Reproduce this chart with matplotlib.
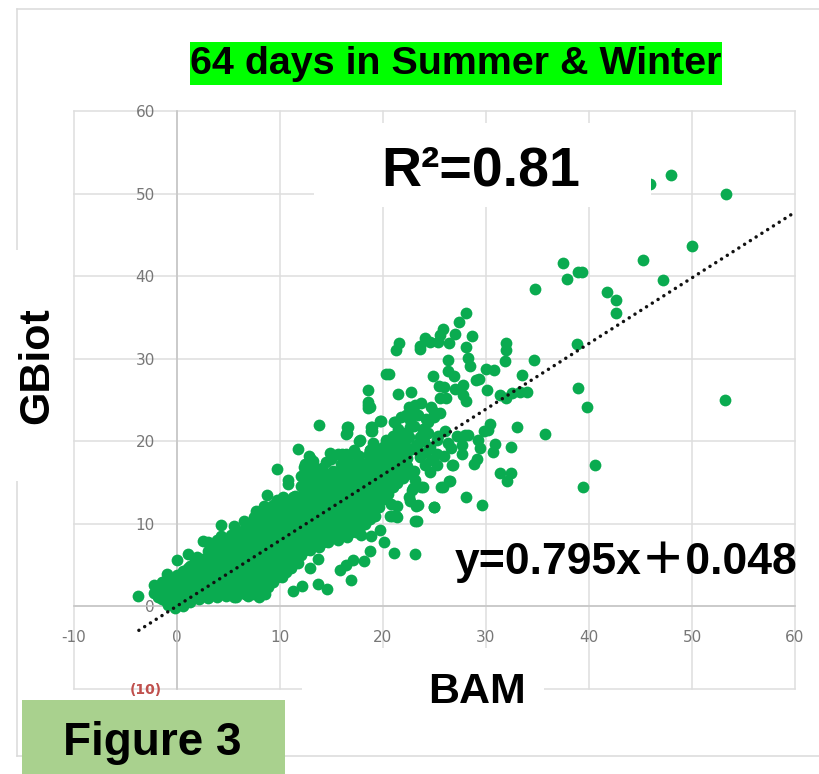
import matplotlib
matplotlib.use("Agg")
import matplotlib.pyplot as plt
from matplotlib.patches import Rectangle
from matplotlib.lines import Line2D
from matplotlib.transforms import ScaledTranslation

# ---- data -----------------------------------------------------------------
# Sparse points at the top and right of the cloud
outer_bam = [47.96, 53.3, 45.9, 50.0, 45.2, 47.2, 37.5, 37.9, 38.9, 39.3, 34.8, 41.7, 42.6, 42.6, 38.8,
             28.1, 27.4, 25.8, 25.5, 27.0, 28.6, 24.1, 24.6, 25.3, 26.4, 21.6, 21.3, 23.6, 23.6, 28.1,
             31.9, 31.9, 31.8, 34.7, 26.3, 28.3, 28.4, 30.0, 30.8, 26.3, 26.9, 24.9, 33.5, 20.3, 20.6,
             29.0, 29.3, 25.4, 25.9, 27.0, 27.8, 30.1, 18.5, 22.7, 21.5, 38.9, 25.5, 26.1, 27.8, 28.1,
             31.4, 31.9, 32.5, 33.3, 34.0, 39.8, 53.2, 18.5, 18.7, 23.7, 23.1, 22.5, 24.7, 25.5]
outer_gbiot = [52.2, 50.0, 51.1, 43.6, 42.0, 39.5, 41.6, 39.7, 40.5, 40.5, 38.4, 38.1, 37.1, 35.5, 31.8,
               35.5, 34.5, 33.6, 32.9, 33.0, 32.8, 32.5, 32.0, 32.0, 31.9, 31.9, 31.0, 31.6, 31.2, 31.4,
               31.9, 31.0, 29.7, 29.8, 29.8, 30.1, 29.1, 28.8, 28.6, 28.5, 27.9, 27.9, 28.0, 28.2, 28.2,
               27.4, 27.5, 26.7, 26.6, 26.3, 26.8, 26.2, 26.2, 26.0, 25.7, 26.5, 25.3, 25.3, 25.6, 24.9,
               25.6, 25.3, 25.8, 26.0, 26.0, 24.1, 25.0, 24.8, 24.2, 24.6, 24.4, 24.2, 24.2, 23.4]

# Points around the trend line between BAM 16 and 41
mid_bam = [40.6, 39.4, 35.7, 33.0, 30.4, 30.2, 29.8, 29.2, 29.4, 30.9, 30.7, 32.4, 28.0, 27.2, 28.3,
           27.7, 27.7, 26.3, 29.1, 28.8, 26.8, 25.9, 31.4, 32.4, 32.0, 26.5, 25.8, 28.1, 29.6, 25.0,
           23.3, 20.7, 21.3, 23.4, 22.6, 22.8, 23.9, 23.1, 24.6, 25.2, 17.8, 16.5, 16.5, 18.9, 18.9,
           19.8, 18.7, 21.2, 21.7, 20.7, 21.3, 22.1, 22.6, 23.6, 23.9, 24.4, 25.0, 22.8, 23.3, 23.6,
           24.2, 25.2, 24.7, 24.1, 22.0, 21.1, 23.0, 20.2]
mid_gbiot = [17.1, 14.5, 20.9, 21.7, 22.1, 21.4, 21.3, 20.2, 19.2, 19.7, 18.7, 19.3, 20.8, 20.7, 20.8,
             19.5, 18.4, 19.8, 17.9, 17.3, 17.1, 18.2, 16.2, 16.1, 15.2, 15.2, 14.5, 13.2, 12.3, 12.1,
             10.4, 11.0, 10.9, 12.3, 12.8, 14.1, 14.5, 15.3, 16.3, 17.1, 20.1, 21.7, 21.0, 21.7, 21.2,
             22.5, 18.9, 22.3, 22.9, 20.1, 20.7, 21.0, 21.7, 20.5, 21.5, 22.3, 22.9, 19.1, 19.3, 18.1,
             18.7, 18.5, 17.7, 17.1, 17.6, 19.0, 16.4, 19.4]

# Upper part of the cloud, BAM 12 to 27
upper_bam = [12.3, 13.2, 14.1, 15.0, 15.9, 16.8, 17.7, 18.6, 19.5, 20.4, 21.3, 22.1,
             12.8, 14.9, 17.2, 19.0, 20.0, 21.0, 21.8, 22.5, 23.2, 24.0, 24.6, 25.2,
             21.5, 22.3, 23.0, 23.8, 24.4, 25.3,
             22.6, 23.4, 24.2, 25.0, 26.0, 26.6]
upper_gbiot = [16.9, 17.6, 16.8, 17.8, 17.2, 17.0, 18.2, 18.4, 18.9, 19.4, 19.8, 19.6,
               18.2, 18.6, 19.0, 19.8, 19.3, 20.6, 19.9, 20.5, 19.6, 20.0, 19.3, 20.2,
               21.5, 21.0, 21.8, 20.8, 21.0, 20.6,
               22.6, 23.2, 22.7, 23.6, 21.3, 19.2]

# Edge of the dense cloud
edge_bam = [-3.8, 0.0, -1.0, 0.0, 1.1, 1.9, 1.1, 2.5, 3.0, 4.3, 5.5, 6.5, 7.7, 8.7, 9.7, 10.8, 10.8,
            10.3, 11.3, 11.7, 13.8, 12.9, 12.4, 14.5, 16.4, 16.4, 16.6, 17.7, 18.8, 18.8, 19.7, 18.5,
            18.7, 17.5, 17.7, 20.3, 20.9, 21.1, 22.2, 22.9, 11.3, 12.1, 13.7, 14.6, 16.9, 15.8, 16.4,
            17.1, 18.2, 18.7, 21.1, 23.1, 20.1, 18.8, 17.9, 19.7, 20.9, 21.4, 23.1, 25.0, 12.9, 13.7,
            11.7, 23.2, 21.4, 20.8, 25.6, 26.4, 26.7, 22.5, 22.9, 23.7, 6.9, 8.0, 8.5, 5.5, 18.5]
edge_gbiot = [1.3, 5.6, 3.9, 3.8, 6.4, 6.0, 4.6, 7.9, 7.8, 9.9, 9.7, 10.3, 11.6, 13.5, 16.7, 15.3, 14.8,
              13.2, 13.3, 19.1, 22.0, 18.0, 17.3, 17.5, 18.5, 20.9, 21.7, 20.0, 21.3, 21.7, 22.5, 24.4,
              19.0, 18.3, 17.3, 20.1, 20.3, 22.3, 23.2, 23.8, 1.9, 2.5, 2.7, 2.1, 3.2, 4.4, 5.0,
              5.6, 5.5, 6.7, 6.5, 6.4, 7.8, 8.5, 8.6, 9.2, 11.0, 10.8, 10.4, 12.1, 4.6, 5.8,
              5.3, 12.2, 12.2, 12.4, 14.5, 15.2, 17.1, 13.3, 14.3, 14.5, 1.3, 1.1, 1.5, 1.1, 24.0]

# Dense core, read column by column along BAM
core_bam_columns = [-2.2, -1.5, -0.9, -0.2, 0.6, 1.3, 2.1, 3.0, 3.9, 4.8, 5.7, 6.6, 7.5, 8.4, 9.3,
                    10.2, 11.1, 12.0, 12.9, 13.8, 14.7, 15.6, 16.5, 17.4, 18.3, 19.2, 20.1, 21.0, 21.9]
core_gbiot_columns = [
    [1.6, 2.6],
    [0.9, 2.0, 3.0],
    [0.2, 1.2, 2.2, 3.1],
    [-0.2, 0.9, 2.0, 3.0],
    [0.1, 1.2, 2.3, 3.3, 4.3],
    [0.5, 1.6, 2.8, 3.9, 4.9],
    [0.9, 2.0, 3.0, 4.1, 5.2],
    [1.0, 2.1, 3.2, 4.4, 5.6, 6.7],
    [1.2, 2.4, 3.5, 4.6, 5.8, 7.0, 8.0],
    [1.3, 2.5, 3.6, 4.8, 6.0, 7.1, 8.2],
    [1.1, 2.3, 3.5, 4.7, 5.9, 7.1, 8.3, 9.0],
    [1.5, 2.7, 3.9, 5.1, 6.3, 7.5, 8.7, 9.5],
    [1.5, 2.6, 3.8, 5.0, 6.2, 7.4, 8.6, 9.8, 10.8],
    [1.8, 3.0, 4.2, 5.4, 6.6, 7.8, 9.0, 10.2, 11.3, 12.2],
    [3.0, 4.2, 5.4, 6.6, 7.8, 9.0, 10.2, 11.4, 12.3],
    [3.6, 4.8, 6.0, 7.2, 8.4, 9.6, 10.8, 12.0, 13.0],
    [4.6, 5.8, 7.0, 8.2, 9.4, 10.6, 11.8, 12.8],
    [6.2, 7.4, 8.6, 9.8, 11.0, 12.2, 13.4, 14.6, 15.8],
    [6.8, 8.0, 9.2, 10.4, 11.6, 12.8, 14.0, 15.2, 16.4, 17.3],
    [7.2, 8.4, 9.6, 10.8, 12.0, 13.2, 14.4, 15.6, 16.5],
    [7.8, 9.0, 10.2, 11.4, 12.6, 13.8, 15.0, 16.0],
    [8.0, 9.2, 10.4, 11.6, 12.8, 14.0, 15.2, 16.2, 18.5],
    [8.4, 9.6, 10.8, 12.0, 13.2, 14.4, 15.6, 16.6, 17.9],
    [9.0, 10.2, 11.4, 12.6, 13.8, 15.0, 16.2],
    [10.0, 11.2, 12.4, 13.6, 14.8, 16.0, 17.2],
    [11.0, 12.2, 13.4, 14.6, 15.8, 17.0, 18.2],
    [13.0, 14.2, 15.4, 16.6, 17.8, 18.6],
    [14.5, 15.7, 16.9, 18.0, 19.0],
    [15.5, 16.7, 17.9, 18.8],
]

# Second reading of the dense core, between the columns above
between_bam_columns = [-1.8, -1.1, -0.5, 0.2, 1.0, 1.7, 2.5, 3.4, 4.3, 5.2, 6.1, 7.0, 7.9, 8.8, 9.7,
                       10.6, 11.5, 12.4, 13.3, 14.2, 15.1, 16.0, 16.9, 17.8, 18.7, 19.6, 20.5, 21.4, 22.3]
between_gbiot_columns = [
    [1.2, 2.2],
    [0.6, 1.6, 2.7],
    [0.7, 1.6, 2.5],
    [0.6, 1.7, 2.7, 3.6],
    [0.7, 1.8, 2.9, 3.9],
    [1.1, 2.4, 3.5, 4.6, 5.6],
    [1.4, 2.6, 3.7, 4.8, 5.8],
    [1.6, 2.8, 3.9, 5.0, 6.2, 7.2],
    [1.8, 3.0, 4.1, 5.2, 6.4, 7.6, 8.5],
    [1.9, 3.1, 4.2, 5.4, 6.6, 7.7, 8.7],
    [1.7, 2.9, 4.1, 5.3, 6.5, 7.7, 8.9],
    [2.1, 3.3, 4.5, 5.7, 6.9, 8.1, 9.3, 10.0],
    [2.1, 3.2, 4.4, 5.6, 6.8, 8.0, 9.2, 10.4, 11.4],
    [2.4, 3.6, 4.8, 6.0, 7.2, 8.4, 9.6, 10.8, 11.9],
    [3.6, 4.8, 6.0, 7.2, 8.4, 9.6, 10.8, 12.0, 12.9],
    [4.2, 5.4, 6.6, 7.8, 9.0, 10.2, 11.4, 12.6],
    [5.2, 6.4, 7.6, 8.8, 10.0, 11.2, 12.4, 13.4],
    [6.8, 8.0, 9.2, 10.4, 11.6, 12.8, 14.0, 15.2, 16.4],
    [7.4, 8.6, 9.8, 11.0, 12.2, 13.4, 14.6, 15.8, 16.9],
    [7.8, 9.0, 10.2, 11.4, 12.6, 13.8, 15.0, 16.2],
    [8.4, 9.6, 10.8, 12.0, 13.2, 14.4, 15.6, 16.4],
    [8.6, 9.8, 11.0, 12.2, 13.4, 14.6, 15.8, 16.4, 18.4],
    [9.0, 10.2, 11.4, 12.6, 13.8, 15.0, 16.2, 17.2],
    [9.6, 10.8, 12.0, 13.2, 14.4, 15.6, 16.8],
    [10.6, 11.8, 13.0, 14.2, 15.4, 16.6, 17.8],
    [12.0, 13.2, 14.4, 15.6, 16.8, 18.0],
    [13.6, 14.8, 16.0, 17.2, 18.4],
    [15.0, 16.2, 17.4, 18.5],
    [16.0, 17.0, 18.0],
]

trend_bam = [-3.7, 59.7]
slope = 0.795
intercept = 0.048

x_ticks = [-10, 0, 10, 20, 30, 40, 50, 60]
y_ticks = [-10, 0, 10, 20, 30, 40, 50, 60]
x_labels = ['-10', '0', '10', '20', '30', '40', '50', '60']
y_labels = ['(10)', '0', '10', '20', '30', '40', '50', '60']

title_text = '64 days in Summer & Winter'
r2_text = 'R²=0.81'
equation_text = 'y=0.795x＋0.048'
x_title = 'BAM'
y_title = 'GBiot'
figure_tag = 'Figure 3'

# ---- drawing --------------------------------------------------------------
W, H = 820, 774
BOLD = ['Liberation Sans', 'Noto Sans CJK JP', 'DejaVu Sans']
GREEN = '#0AAB50'
GRID = '#DEDEDE'
AXIS = '#C4C4C4'
TICK = '#777777'

fig = plt.figure(figsize=(W / 100, H / 100), dpi=100, facecolor='white')
ax = fig.add_axes([74 / W, 1 - 689 / H, (795 - 74) / W, (689 - 111) / H])
ax.patch.set_alpha(0)
ax.set_xlim(-10, 60)
ax.set_ylim(-10, 60)
ax.set_xticks(x_ticks, x_labels)
ax.set_yticks(y_ticks, y_labels)
ax.grid(True, color=GRID, lw=1.1, clip_on=False)
ax.set_axisbelow(True)
for name in ('top', 'right'):
    ax.spines[name].set_visible(False)
ax.spines['bottom'].set_position(('data', 0))
ax.spines['left'].set_position(('data', 0))
ax.spines['bottom'].set_color(AXIS)
ax.spines['left'].set_color(AXIS)
ax.spines['bottom'].set_linewidth(1.1)
ax.spines['left'].set_linewidth(1.1)
ax.tick_params(axis='x', length=0, pad=17, labelsize=11, labelcolor=TICK)
ax.tick_params(axis='y', length=0, pad=16, labelsize=11, labelcolor=TICK)
first = ax.get_yticklabels()[0]
first.set_color('#C0504D')
first.set_fontsize(10)
first.set_fontweight('bold')
first.set_transform(first.get_transform() + ScaledTranslation(5 / 72, 0, fig.dpi_scale_trans))

core_x, core_y = [], []
for columns_x, columns_y in ((core_bam_columns, core_gbiot_columns), (between_bam_columns, between_gbiot_columns)):
    for bam_value, gbiot_values in zip(columns_x, columns_y):
        core_x += [bam_value] * len(gbiot_values)
        core_y += gbiot_values

for xs, ys in ((core_x, core_y), (upper_bam, upper_gbiot), (edge_bam, edge_gbiot),
               (mid_bam, mid_gbiot), (outer_bam, outer_gbiot)):
    ax.scatter(xs, ys, s=72, color=GREEN, linewidths=0, zorder=3, clip_on=False)

trend_gbiot = [slope * v + intercept for v in trend_bam]
ax.plot(trend_bam, trend_gbiot, color='#111111', lw=2.5, ls=(0, (0.02, 1.95)),
        dash_capstyle='round', zorder=4)


def box(left, top, right, bottom, color, z):
    fig.add_artist(Rectangle((left / W, 1 - bottom / H), (right - left) / W, (bottom - top) / H,
                             transform=fig.transFigure, facecolor=color, edgecolor='none', zorder=z))


# outer frame of the pasted chart
for xs, ys in (([17, 17], [9, 756]), ([17, 820], [9, 9]), ([17, 820], [756, 756])):
    fig.add_artist(Line2D([v / W for v in xs], [1 - v / H for v in ys], transform=fig.transFigure,
                          color='#DADADA', lw=1.1, zorder=-1))

box(0, 250, 73, 481, 'white', 5)        # behind y title
box(314, 123, 651, 207, 'white', 5)     # behind R2
box(302, 648, 544, 740, 'white', 5)     # behind x title
box(190, 42, 722, 85, '#00FF00', 6)     # title band
box(22, 700, 285, 774, '#A9D18E', 6)    # figure tag


def label(x, y, s, size, **kw):
    fig.text(x / W, 1 - y / H, s, fontsize=size, fontweight='bold', family=BOLD, color='black',
             zorder=10, ha='center', va='center', **kw)


label(456, 64, title_text, 28.4)
label(481, 172, r2_text, 40)
label(626, 562, equation_text, 32)
label(477, 692, x_title, 31)
label(37, 366, y_title, 31, rotation=90)
label(152, 743, figure_tag, 33)

fig.savefig('out.png', dpi=100)
